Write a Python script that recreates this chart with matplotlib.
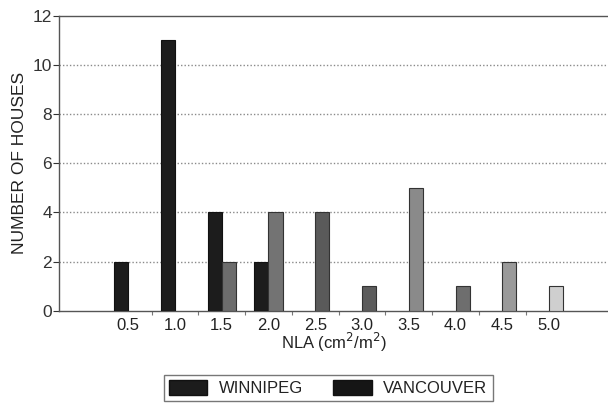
import matplotlib
matplotlib.use("Agg")
import matplotlib.pyplot as plt
from matplotlib.patches import Patch
import numpy as np

plt.rcParams['font.family'] = ['Liberation Sans', 'DejaVu Sans']

nla_labels = ["0.5", "1.0", "1.5", "2.0", "2.5", "3.0", "3.5", "4.0", "4.5", "5.0"]
winnipeg = [2, 11, 4, 2, 0, 0, 0, 0, 0, 0]
vancouver = [0, 0, 2, 4, 4, 1, 5, 1, 2, 1]
vancouver_shades = ["#6a6a6a", "#6a6a6a", "#6c6c6c", "#737373", "#5a5a5a",
                    "#5c5c5c", "#8a8a8a", "#6e6e6e", "#9a9a9a", "#cfcfcf"]
winnipeg_color = "#1c1c1c"

fig = plt.figure(figsize=(6.08, 4.09), dpi=100)
ax = fig.add_axes([0.097, 0.24, 0.903, 0.722])

x = np.arange(len(nla_labels))
w = 0.3
for i in x:
    if winnipeg[i] > 0:
        ax.bar(i - w / 2, winnipeg[i], width=w, color=winnipeg_color,
               edgecolor="#111111", linewidth=0.8, zorder=3)
    if vancouver[i] > 0:
        ax.bar(i + w / 2, vancouver[i], width=w, color=vancouver_shades[i],
               edgecolor="#333333", linewidth=0.8, zorder=3)

ax.set_xlim(-1.48, 10.26)
ax.set_ylim(0, 12)
ax.set_yticks(range(0, 13, 2))
ax.set_xticks(x)
ax.set_xticklabels(nla_labels, fontsize=12)
ax.set_xticks(x[:-1] + 0.5, minor=True)
ax.tick_params(axis='x', which='major', length=0, pad=5, colors="#222222")
ax.tick_params(axis='x', which='minor', length=3, width=0.8, color="#777777")
ax.tick_params(axis='y', length=4, width=0.8, labelsize=12.5, pad=1,
               colors="#333333", labelcolor="#333333")

for yv in range(2, 12, 2):
    ax.axhline(yv, color="#8a8a8a", linestyle=(0, (1, 1.5)), linewidth=1.0, zorder=1)

ax.spines['right'].set_visible(False)
for s in ['left', 'top', 'bottom']:
    ax.spines[s].set_color("#555555")
    ax.spines[s].set_linewidth(1.0)

ax.set_ylabel("NUMBER OF HOUSES", fontsize=12.5, color="#222222", labelpad=4)
ax.set_xlabel("NLA (cm$^2$/m$^2$)", fontsize=12, color="#222222", labelpad=-1)

handles = [Patch(facecolor=winnipeg_color, edgecolor="#111111", label="WINNIPEG"),
           Patch(facecolor="#151515", edgecolor="#111111", label="VANCOUVER")]
leg = fig.legend(handles=handles, loc="center", bbox_to_anchor=(0.54, 0.052),
                 ncol=2, frameon=True, fancybox=False, fontsize=12,
                 handlelength=2.3, handleheight=1.0, columnspacing=1.8,
                 borderpad=0.3, handletextpad=0.7)
leg.get_frame().set_edgecolor("#555555")
leg.get_frame().set_linewidth(1.0)
for t in leg.get_texts():
    t.set_color("#222222")

fig.savefig("out.png", dpi=100, facecolor="white")
